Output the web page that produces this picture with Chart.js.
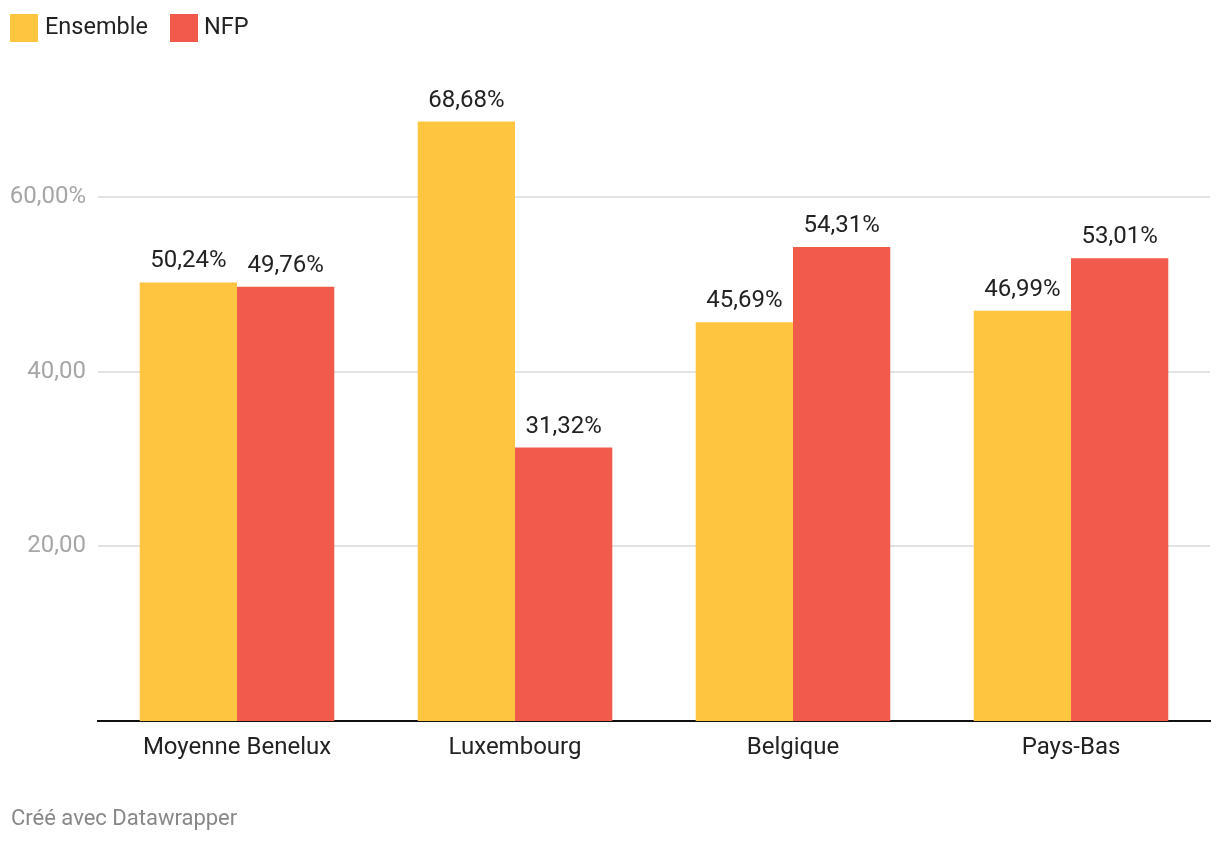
<!DOCTYPE html>
<html>
<head>
<meta charset="utf-8">
<script src="https://cdn.jsdelivr.net/npm/chart.js@4"></script>
<style>
  html, body { margin: 0; padding: 0; background: #fff; }
  body { width: 1220px; height: 844px; position: relative; overflow: hidden; font-family: Roboto, "Noto Sans", sans-serif; }
  #wrap { position: absolute; left: 0; top: 0; width: 1220px; height: 844px; }
  .sw { position: absolute; top: 14px; width: 28px; height: 28px; }
  .lt { position: absolute; top: 10px; font-size: 23.5px; line-height: 32px; color: #222; }
  .footer { position: absolute; left: 11px; top: 805px; font-size: 22px; color: #888; }
</style>
</head>
<body>
<div id="wrap"><canvas id="c" width="1220" height="844"></canvas></div>
<span class="sw" style="left:10px;background:#FEC541"></span><span class="lt" style="left:45px">Ensemble</span>
<span class="sw" style="left:170px;background:#F15B4C"></span><span class="lt" style="left:204px">NFP</span>
<div class="footer">Créé avec Datawrapper</div>
<script>
const categories = ["Moyenne Benelux", "Luxembourg", "Belgique", "Pays-Bas"];
const seriesNames = ["Ensemble", "NFP"];
const ensembleValues = [50.24, 68.68, 45.69, 46.99];
const nfpValues = [49.76, 31.32, 54.31, 53.01];
const yTickValues = [20, 40, 60];
const yTickLabels = ["20,00", "40,00", "60,00%"];
const colors = ["#FEC541", "#F15B4C"];

const fmt = v => v.toFixed(2).replace('.', ',') + '%';

const labelPlugin = {
  id: 'valueLabels',
  afterDatasetsDraw(chart) {
    const ctx = chart.ctx;
    ctx.save();
    ctx.font = '24px Roboto, "Noto Sans", sans-serif';
    ctx.fillStyle = '#222';
    ctx.textAlign = 'center';
    ctx.textBaseline = 'middle';
    chart.data.datasets.forEach((ds, di) => {
      chart.getDatasetMeta(di).data.forEach((bar, i) => {
        ctx.fillText(fmt(ds.data[i]), bar.x, bar.y - 21);
      });
    });
    ctx.restore();
  }
};

new Chart(document.getElementById('c'), {
  type: 'bar',
  data: {
    labels: categories,
    datasets: [
      { label: seriesNames[0], data: ensembleValues, backgroundColor: colors[0] },
      { label: seriesNames[1], data: nfpValues, backgroundColor: colors[1] }
    ]
  },
  options: {
    responsive: false,
    animation: false,
    devicePixelRatio: 1,
    layout: { padding: { top: 110, right: 10, bottom: 63, left: 0 } },
    plugins: { legend: { display: false }, tooltip: { enabled: false } },
    datasets: { bar: { categoryPercentage: 0.7, barPercentage: 1.0 } },
    scales: {
      x: {
        grid: { display: false, drawTicks: false },
        border: { display: true, color: '#111', width: 2 },
        ticks: { color: '#222', font: { family: 'Roboto', size: 24 }, padding: 13 },
        afterFit(scale) { scale.height = 60; }
      },
      y: {
        min: 0, max: 70,
        afterBuildTicks(scale) { scale.ticks = yTickValues.map(v => ({ value: v })); },
        afterFit(scale) { scale.width = 98; },
        grid: { color: '#e3e3e3', lineWidth: 2, drawTicks: false },
        border: { display: false },
        ticks: {
          color: '#a6a6a6', font: { family: 'Roboto', size: 24 }, padding: 12,
          callback: (v) => { const i = yTickValues.indexOf(v); return i >= 0 ? yTickLabels[i] : ''; }
        }
      }
    }
  },
  plugins: [labelPlugin]
});
</script>
</body>
</html>
